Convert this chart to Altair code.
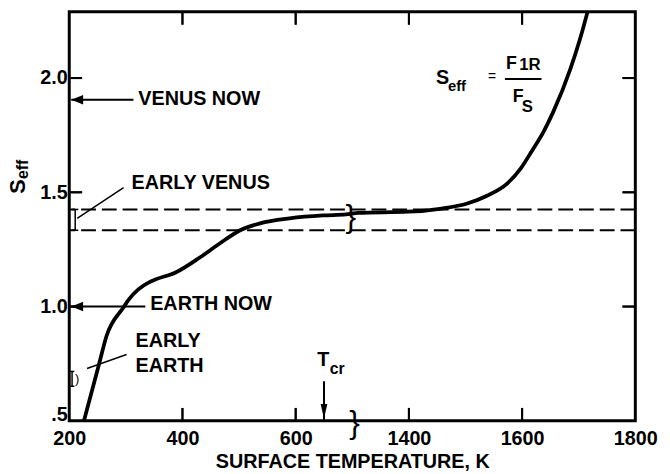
import altair as alt
import pandas as pd

# ---- data ----
T_curve = [226, 252, 266, 296, 305, 322, 340, 352, 387, 432, 467, 502, 537, 589, 648, 689,
           1311, 1399, 1458, 1503, 1538, 1573, 1598, 1617, 1638, 1655, 1685, 1704, 1716]
S_curve = [0.50, 0.742, 0.872, 0.997, 1.03, 1.075, 1.105, 1.118, 1.148, 1.217, 1.278, 1.334, 1.364, 1.386, 1.399, 1.403,
           1.41, 1.415, 1.429, 1.451, 1.485, 1.537, 1.606, 1.680, 1.766, 1.852, 2.038, 2.185, 2.293]
x_tick_labels = [200, 400, 600, 1400, 1600, 1800]
x_inner_ticks = [400, 600, 1400, 1600]
y_ticks = [0.5, 1.0, 1.5, 2.0]
y_inner_ticks = [1.0, 1.5, 2.0]
early_venus = [1.334, 1.425]
venus_now = 1.905
earth_now = 1.0
t_cr = 650

SHIFT = 600  # broken axis: 700..1300 K removed
def disp(t):
    return t if t < 1000 else t - SHIFT

X0, X1 = 200, 1200
Y0, Y1 = 0.5, 2.29
W, H = 573, 414
PX = (X1 - X0) / W      # data units per pixel, x
PY = (Y1 - Y0) / H      # data units per pixel, y
TICK = 12

FONT = "Liberation Sans"
xs = alt.Scale(domain=[X0, X1], nice=False, zero=False)
ys = alt.Scale(domain=[Y0, Y1], nice=False, zero=False)

label_expr_x = f"datum.value > 700 ? format(datum.value + {SHIFT}, 'd') : format(datum.value, 'd')"

bottom_axis = alt.Axis(values=[disp(v) for v in x_tick_labels], labelExpr=label_expr_x,
                       title="SURFACE TEMPERATURE, K", titleFont=FONT, titleFontSize=20,
                       titleFontWeight="bold", titleColor="black", titlePadding=3,
                       labelFont=FONT, labelFontSize=20, labelFontWeight="bold", labelColor="black",
                       labelFlush=False, labelOverlap=False, labelPadding=8,
                       domain=False, grid=False, ticks=False)
left_axis = alt.Axis(values=y_ticks,
                     labelExpr="datum.value == 0.5 ? '.5' : format(datum.value, '.1f')",
                     labelFont=FONT, labelFontSize=20, labelFontWeight="bold", labelColor="black",
                     labelBaseline=alt.condition("datum.value == 0.5", alt.value("alphabetic"), alt.value("middle")),
                     labelPadding=2, title=None, domain=False, grid=False, ticks=False, labelFlush=False)


def X(field):
    return alt.X(field, type="quantitative", scale=xs, axis=bottom_axis)


def Y(field):
    return alt.Y(field, type="quantitative", scale=ys, axis=left_axis)


curve_df = pd.DataFrame({"T": T_curve, "S": S_curve})
curve = alt.Chart(curve_df).transform_calculate(
    u=f"datum.T < 1000 ? datum.T : datum.T - {SHIFT}"
).mark_line(color="black", strokeWidth=3.8, interpolate="monotone", clip=True).encode(
    x=X("u"), y=Y("S"), order="T:Q",
)

dash = alt.Chart(pd.DataFrame({"S": early_venus})).mark_rule(
    color="black", strokeWidth=2, strokeDash=[15, 6]
).encode(y=Y("S"))


def seg(x1, x2, y1, y2, width=2):
    df = pd.DataFrame({"u": [x1], "u2": [x2], "S": [y1], "S2": [y2]})
    return alt.Chart(df).mark_rule(color="black", strokeWidth=width).encode(
        x=X("u"), x2="u2:Q", y=Y("S"), y2="S2:Q")


def label(text, u, s, size=20, weight="bold", align="left", baseline="middle", angle=0):
    df = pd.DataFrame({"t": [text], "u": [u], "S": [s]})
    return alt.Chart(df).mark_text(font=FONT, fontSize=size, fontWeight=weight, align=align,
                                   baseline=baseline, angle=angle, color="black").encode(
        x=X("u"), y=Y("S"), text="t:N")


def head(u, s, path, size):
    df = pd.DataFrame({"u": [u], "S": [s]})
    return alt.Chart(df).mark_point(shape=path, filled=True, size=size, color="black",
                                    opacity=1, strokeWidth=0).encode(x=X("u"), y=Y("S"))


# inward tick marks on all four sides, kept 1 px off the frame edge
tick_layers = []
for v in x_inner_ticks:
    tick_layers.append(seg(disp(v), disp(v), Y0 + 1 * PY, Y0 + (TICK + 1) * PY))
    tick_layers.append(seg(disp(v), disp(v), Y1 - (TICK + 1) * PY, Y1 - 1 * PY))
for v in y_inner_ticks:
    tick_layers.append(seg(X0 + 1 * PX, X0 + (TICK + 1) * PX, v, v))
    tick_layers.append(seg(X1 - (TICK + 1) * PX, X1 - 1 * PX, v, v))

# same ticks drawn again as tick marks
xu = [disp(v) for v in x_inner_ticks]
tk_x = pd.DataFrame({"u": xu + xu,
                     "S": [Y0 + (TICK / 2 + 1) * PY] * len(xu) + [Y1 - (TICK / 2 + 1) * PY] * len(xu)})
tk_y = pd.DataFrame({"S": y_inner_ticks + y_inner_ticks,
                     "u": [X0 + (TICK / 2 + 1) * PX] * len(y_inner_ticks) + [X1 - (TICK / 2 + 1) * PX] * len(y_inner_ticks)})
tick_layers.append(alt.Chart(tk_x).mark_tick(orient="vertical", size=TICK, thickness=2, color="black", opacity=1)
                   .encode(x=X("u"), y=Y("S")))
tick_layers.append(alt.Chart(tk_y).mark_tick(orient="horizontal", size=TICK, thickness=2, color="black", opacity=1)
                   .encode(x=X("u"), y=Y("S")))

LEFT = "M -1 0 L 1 -0.8 L 1 0.8 Z"
DOWN = "M 0 1 L -0.45 -1 L 0.45 -1 Z"

layers = [
    curve,
    dash,
    # Venus now
    seg(203.5, 313.4, venus_now, venus_now),
    head(214, venus_now, LEFT, 144),
    label("VENUS NOW", 322, 1.907),
    # Early Venus
    seg(214, 296, 1.386, 1.520, width=1.5),
    seg(210.5, 210.5, early_venus[0], early_venus[1], width=1.5),
    seg(205, 216, early_venus[0], early_venus[0], width=1.5),
    seg(205, 216, early_venus[1], early_venus[1], width=1.5),
    label("EARLY VENUS", 310, 1.540),
    # Earth now
    seg(203.5, 334.4, earth_now, earth_now),
    head(214, earth_now, LEFT, 144),
    label("EARTH NOW", 343, 1.010),
    # Early Earth
    label("EARLY", 317, 0.848),
    label("EARTH", 317, 0.740),
    seg(231.4, 301.2, 0.729, 0.790, width=1.5),
    seg(205, 205, 0.651, 0.716, width=1.5),
    seg(201.5, 209, 0.651, 0.651, width=1.5),
    seg(201.5, 209, 0.716, 0.716, width=1.5),
    label(")", 214, 0.683, size=13, weight="normal", align="center"),
    # T_cr
    seg(t_cr, t_cr, 0.5, 0.673),
    head(t_cr, 0.541, DOWN, 225),
    label("T", 638, 0.738, size=20, baseline="alphabetic"),
    label("cr", 660, 0.703, size=16, baseline="alphabetic"),
    # axis breaks
    label("}", 697.4, 1.392, size=32, weight="normal", align="center"),
    label("}", 704, 0.49, size=32, weight="normal", align="center"),
    # formula
    label("S", 848, 1.974, size=20, baseline="alphabetic"),
    label("eff", 869, 1.944, size=15, baseline="alphabetic"),
    label("=", 947, 2.004, size=14, weight="normal", align="center"),
    seg(969.6, 1034.2, 1.996, 1.996, width=2),
    label("F", 971.4, 2.039, size=18, baseline="alphabetic"),
    label("1R", 995, 2.035, size=17, baseline="alphabetic"),
    label("F", 983.6, 1.896, size=18, baseline="alphabetic"),
    label("S", 999.3, 1.853, size=17, baseline="alphabetic"),
    # y title
    label("S", 110, 1.525, size=22, align="center", angle=270),
    label("eff", 119, 1.600, size=16, align="center", angle=270),
] + tick_layers

chart = alt.layer(*layers).properties(
    width=W, height=H,
    autosize=alt.AutoSizeParams(type="none"),
    padding={"left": 62, "top": 1, "right": 27, "bottom": 50},
    background="white",
).configure_view(stroke="black", strokeWidth=3)

chart.save("out.html", embed_options={"renderer": "svg", "actions": False})
